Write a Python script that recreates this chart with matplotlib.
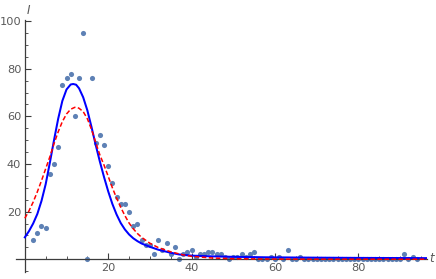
import matplotlib
matplotlib.use("Agg")
import matplotlib.pyplot as plt
from matplotlib.ticker import MultipleLocator, FixedLocator

# Observed data (day, count)
days = list(range(2, 95))
counts = [8, 11, 14, 13, 36, 40, 47, 73, 76, 78, 60, 76, 95, 0, 76, 49, 52, 48, 39, 32,
          26, 23, 23, 20, 14, 15, 8, 6, 6, 2, 8, 4, 7, 2, 5, 0, 2, 3, 4, 1,
          2, 2, 3, 3, 2, 2, 1, 0, 1, 1, 2, 1, 2, 3, 0, 0, 0, 1, 0, 1,
          0, 4, 0, 0, 1] + [0] * 24 + [2, 0, 1, 0]

# Model curve 1 (solid blue)
blue_t = [0, 1, 2, 3, 4, 5, 6, 7, 8, 9, 10, 11, 11.6, 12.3, 13, 14, 15, 16, 17, 18, 19,
          20, 21, 22, 23, 24, 25, 26, 27, 28, 30, 32, 35, 37, 40, 45, 50, 58, 70, 80, 96.5]
blue_I = [9.2, 11.8, 15.0, 19.0, 24.5, 31.5, 40.5, 50.0, 59.0, 66.5, 71.3, 73.4, 73.6,
          73.3, 71.8, 68.0, 62.5, 55.5, 48.0, 41.0, 34.5, 28.5, 23.2, 18.8, 15.2, 12.5,
          10.4, 8.8, 7.6, 6.6, 5.2, 4.0, 2.7, 2.0, 1.5, 1.2, 1.0, 0.8, 0.65, 0.55, 0.45]

# Model curve 2 (dashed red)
red_t = [0, 1, 2, 3, 4, 5, 6, 7, 8, 9, 10, 11, 12, 12.5, 13, 14, 15, 16, 17, 18, 19, 20,
         21, 22, 23, 24, 25, 26, 27, 28, 30, 32, 35, 38, 40, 45, 50, 60, 70, 96.5]
red_I = [17.2, 20.3, 24.0, 28.3, 33.0, 38.0, 43.0, 48.5, 53.5, 57.8, 61.0, 63.0, 63.8,
         63.8, 63.4, 62.0, 59.0, 54.5, 49.0, 43.8, 39.5, 34.8, 30.0, 25.7, 21.8, 18.3,
         15.2, 12.8, 10.8, 9.2, 6.7, 4.9, 3.1, 1.8, 1.2, 0.5, 0.2, 0.05, 0.0, 0.0]

x_major = [20, 40, 60, 80]
y_major = [20, 40, 60, 80, 100]

axis_col = "#3c3c3c"
label_col = "#5a5a5a"

fig = plt.figure(figsize=(4.36, 2.79), dpi=100)
ax = fig.add_axes([0.0378, 0.024, 0.942, 0.913])
ax.set_xlim(-2, 96.5)
ax.set_ylim(-5.5, 101.5)

ax.plot(days, counts, "o", color="#5E81B5", markersize=3.7, markeredgewidth=0, zorder=2)
ax.plot(blue_t, blue_I, color="blue", lw=1.45, zorder=3, solid_joinstyle="round")
ax.plot(red_t, red_I, color="red", lw=1.1, linestyle=(0, (3.0, 1.6)), zorder=4)

for s in ["top", "right"]:
    ax.spines[s].set_visible(False)
for s in ["left", "bottom"]:
    ax.spines[s].set_position(("data", 0))
    ax.spines[s].set_color(axis_col)
    ax.spines[s].set_linewidth(0.9)
ax.spines["left"].set_bounds(-5.5, 100.5)

ax.xaxis.set_major_locator(FixedLocator(x_major))
ax.yaxis.set_major_locator(FixedLocator(y_major))
ax.xaxis.set_minor_locator(MultipleLocator(5))
ax.yaxis.set_minor_locator(MultipleLocator(5))
ax.tick_params(which="major", direction="in", length=4, width=0.8, color=axis_col,
               labelsize=8.2, labelcolor=label_col, pad=2.5)
ax.tick_params(which="minor", direction="in", length=2.3, width=0.6, color=axis_col)
ax.set_xticklabels([str(v) for v in x_major])
ax.set_yticklabels([str(v) for v in y_major])

fig.text(27 / 436, 1 - 10 / 279, "I", style="italic", color=label_col, fontsize=8.5,
         ha="left", va="center")
fig.text(432 / 436, 1 - 258 / 279, "t", style="italic", color=label_col, fontsize=8.5,
         ha="center", va="center")

fig.savefig("out.png", dpi=100)
